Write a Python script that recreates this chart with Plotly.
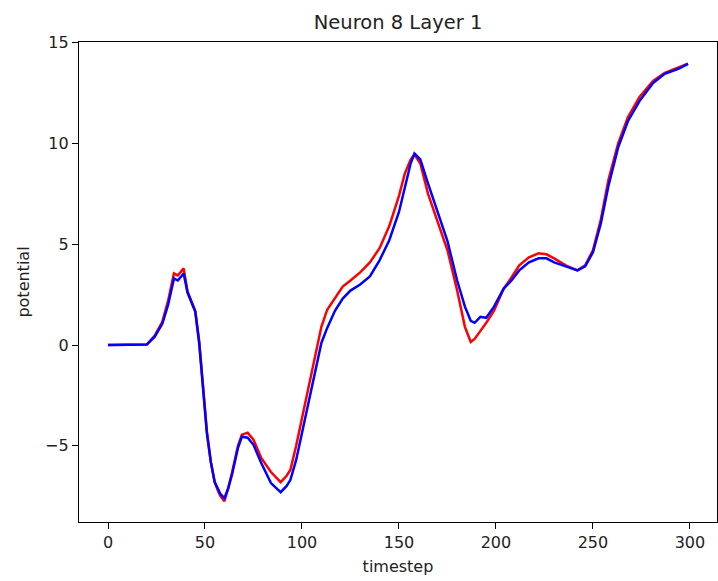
import plotly.graph_objects as go

timestep = [0, 5, 10, 15, 20, 24, 28, 31, 34, 36, 39, 41, 43, 45, 47, 49, 51, 53, 55, 57,
            58, 60, 62, 64, 67, 69, 72, 75, 79, 84, 87, 89, 92, 94, 97, 100, 103, 106, 110,
            113, 117, 121, 125, 130, 135, 140, 145, 150, 153, 156, 158, 161, 165, 170, 175,
            180, 184, 187, 189, 192, 195, 199, 204, 208, 212, 217, 222, 226, 230, 236, 242,
            246, 250, 254, 258, 263, 268, 274, 281, 287, 294, 299]

red_potential = [0, 0, 0, 0, 0.02, 0.45, 1.15, 2.2, 3.55, 3.45, 3.8, 2.65, 2.15, 1.7, 0.2, -1.9,
                 -4.3, -5.8, -6.8, -7.3, -7.5, -7.75, -7.1, -6.3, -5.0, -4.45, -4.35, -4.7,
                 -5.6, -6.3, -6.6, -6.8, -6.5, -6.2, -5.0, -3.6, -2.2, -0.8, 0.9, 1.75, 2.3,
                 2.9, 3.2, 3.6, 4.1, 4.8, 5.9, 7.4, 8.5, 9.2, 9.45, 9.0, 7.5, 6.1, 4.7, 2.7,
                 0.9, 0.15, 0.3, 0.7, 1.1, 1.7, 2.8, 3.35, 3.95, 4.35, 4.55, 4.5, 4.3, 3.95,
                 3.7, 3.95, 4.7, 6.2, 8.2, 10.0, 11.3, 12.3, 13.1, 13.5, 13.75, 13.95]

blue_potential = [0, 0, 0, 0, 0.02, 0.4, 1.05, 2.0, 3.3, 3.2, 3.55, 2.6, 2.1, 1.65, 0.1, -2.0,
                  -4.4, -5.8, -6.8, -7.2, -7.4, -7.6, -7.1, -6.4, -5.1, -4.55, -4.6, -4.95,
                  -5.85, -6.85, -7.15, -7.3, -7.0, -6.7, -5.7, -4.4, -3.0, -1.7, 0.1, 0.85,
                  1.7, 2.3, 2.7, 3.0, 3.4, 4.2, 5.2, 6.6, 7.8, 9.0, 9.5, 9.2, 8.0, 6.55, 5.15,
                  3.2, 1.9, 1.2, 1.1, 1.4, 1.35, 1.9, 2.8, 3.2, 3.7, 4.1, 4.3, 4.3, 4.1, 3.9,
                  3.7, 3.9, 4.6, 6.0, 7.9, 9.8, 11.1, 12.1, 13.0, 13.45, 13.7, 13.95]

x_ticks = [0, 50, 100, 150, 200, 250, 300]
y_ticks = [-5, 0, 5, 10, 15]

font_family = "DejaVu Sans"

fig = go.Figure()
fig.add_trace(go.Scatter(x=timestep, y=red_potential, mode="lines",
                         line=dict(color="red", width=2.5), showlegend=False))
fig.add_trace(go.Scatter(x=timestep, y=blue_potential, mode="lines",
                         line=dict(color="blue", width=2.5), showlegend=False))

axis_common = dict(showgrid=False, zeroline=False, showline=True, linecolor="black",
                   linewidth=1.2, mirror=True, ticks="outside", ticklen=6, tickcolor="black",
                   tickwidth=1.2,
                   tickfont=dict(family=font_family, size=16, color="#222"))

fig.update_layout(
    width=718, height=581,
    margin=dict(l=79, r=1, t=42, b=59),
    paper_bgcolor="white", plot_bgcolor="white",
    title=dict(text="Neuron 8 Layer 1", x=0.5, xref="paper", y=1 - 22 / 581, yanchor="middle",
               font=dict(family=font_family, size=19.5, color="#222")),
    xaxis=dict(range=[-14.95, 313.95], tickvals=x_ticks,
               title=dict(text="timestep", standoff=9,
                          font=dict(family=font_family, size=16, color="#222")),
               **axis_common),
    yaxis=dict(range=[-8.78, 15.03], tickvals=y_ticks,
               title=dict(text="potential", standoff=11,
                          font=dict(family=font_family, size=16, color="#222")),
               **axis_common),
)

fig.write_html("out.html")
